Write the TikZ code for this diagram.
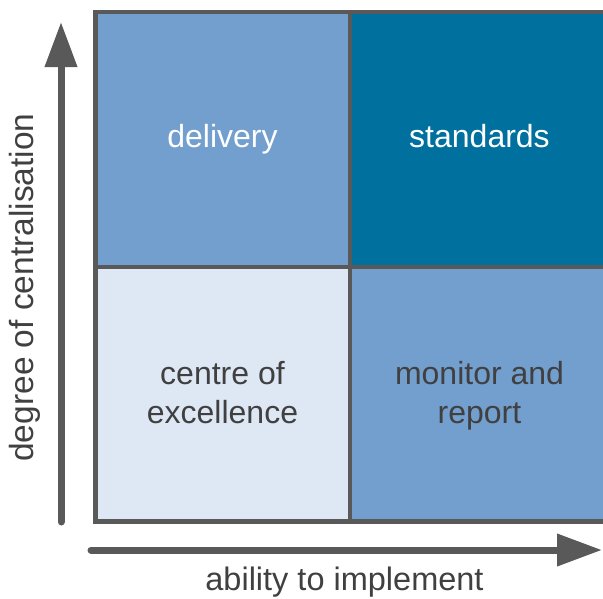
\documentclass[tikz,border=0pt]{standalone}
\usepackage{fontspec}
\setmainfont{Liberation Sans}
\usetikzlibrary{arrows.meta}
\definecolor{midblue}{HTML}{739FCF}
\definecolor{deepblue}{HTML}{00709F}
\definecolor{paleblue}{HTML}{DEE8F4}
\definecolor{rulegray}{HTML}{595959}
\definecolor{ink}{HTML}{404040}
\begin{document}
\begin{tikzpicture}[x=1pt,y=-1pt,
  cell/.style={draw=rulegray, line width=4.5pt, outer sep=0pt, inner sep=0pt,
               anchor=north west},
  celltext/.style={anchor=base, inner sep=0pt, align=center,
                   font=\fontsize{32}{38.5}\selectfont},
  axis/.style={draw=rulegray, line width=7pt, line cap=round,
               -{Triangle[length=45pt,width=31pt]}},
  axislabel/.style={anchor=base, inner sep=0pt, text=ink}]
\useasboundingbox (0,0) rectangle (603,598);

% quadrant grid (its right edge runs past the page)
\begin{scope}
  \clip (0,0) rectangle (603,598);
  \node[cell, fill=midblue,  minimum width=254.5pt, minimum height=255pt]   (tl) at (95.5,12)  {};
  \node[cell, fill=deepblue, minimum width=262pt,   minimum height=255pt]   (tr) at (350,12)   {};
  \node[cell, fill=paleblue, minimum width=254.5pt, minimum height=254.5pt] (bl) at (95.5,267) {};
  \node[cell, fill=midblue,  minimum width=262pt,   minimum height=254.5pt] (br) at (350,267)  {};
\end{scope}

% quadrant labels (two-line labels sit on the baseline of their last line)
\node[celltext, text=white] (delivery)  at (222.5,147) {delivery};
\node[celltext, text=white] (standards) at (479.5,147) {standards};
\node[celltext, text=ink]   (coe)       at (222.5,423) {centre of\\excellence};
\node[celltext, text=ink]   (monitor)   at (479.5,423) {monitor and\\report};

% axes
\coordinate (ybot) at (61,522);
\coordinate (ytop) at (61,22);
\coordinate (xleft) at (91,550);
\coordinate (xright) at (602,550);
\draw[axis] (ybot) -- (ytop);
\draw[axis] (xleft) -- (xright);

\node[axislabel, rotate=90, font=\fontsize{33.5}{40}\selectfont] (ylabel) at (34,287.5) {degree of centralisation};
\node[axislabel, font=\fontsize{32.5}{39}\selectfont] (xlabel) at (344.5,590) {ability to implement};
\end{tikzpicture}
\end{document}
